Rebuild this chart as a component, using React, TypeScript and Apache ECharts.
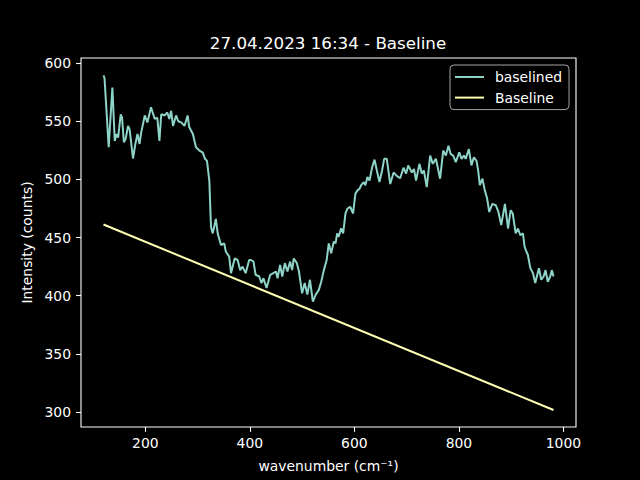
import { useEffect, useRef } from 'react';
import * as echarts from 'echarts';

const chartTitle = '27.04.2023 16:34 - Baseline';

// baselined spectrum
const wavenumbers = [
  120, 122, 130, 137, 141.6, 145, 148, 153, 155.6, 159, 162.5, 167, 170, 176.5, 181, 185, 189, 192, 199, 204,
  211, 218, 223, 227, 230.5, 237, 242, 246, 249.5, 253, 259, 263, 268.6, 275, 281, 284, 291, 297, 303, 310,
  314, 318, 322.5, 325.7, 329, 335, 338.5, 344.8, 351, 354, 360.5, 364, 371, 376.6, 381.5, 386, 392, 398.7,
  402, 407, 411, 418, 422, 426, 432, 439, 445, 450, 453, 458, 462, 467, 472, 477, 481, 484, 490, 494, 500,
  505, 510, 515, 520.6, 526, 532, 536.6, 541.6, 547, 551, 555.6, 560.6, 564, 567, 570, 574.6, 578.5, 583,
  587, 592, 597.5, 602, 606, 610, 613, 618, 621, 625, 629, 634, 638.6, 643, 648, 653, 657, 662, 668.6, 675,
  681, 687.6, 694, 699, 703, 710, 714, 718, 724.4, 729, 733, 738.5, 745, 750, 756, 764, 770, 775, 780, 784,
  789, 794, 800.6, 805, 809.5, 813, 819, 824, 828.6, 833.7, 836.8, 840, 845, 849.5, 854, 858, 864, 870.5,
  875.6, 881, 888, 894, 899, 903, 908.6, 913, 917.5, 922.5, 925.7, 929, 932, 936.6, 941.6, 946, 953, 957.5,
  962, 965.7, 970, 974.7, 977.7, 981,
];
const baselined = [
  589.5, 587, 527.6, 579, 533, 539, 536, 556, 553, 532, 535, 546, 543, 518, 530.5, 539, 530.5, 540, 555, 549,
  562, 552, 553, 533, 556, 555, 557.5, 552, 559, 546, 555, 550, 549, 546, 555, 545, 539, 527.6, 525, 523,
  518, 516, 499, 459, 453.6, 466, 453.6, 443.6, 445, 438, 433.6, 419.4, 432, 430.7, 422, 425, 419.4, 430.7,
  430.7, 429.3, 418, 416.5, 410.9, 415, 406.6, 418, 419.4, 420.8, 415, 426.5, 416.5, 428, 420.8, 429.3, 422,
  432, 428, 420.8, 402, 411, 400.9, 413.7, 395, 400.9, 405, 412, 422, 430.7, 445, 436.5, 446.4, 445, 453.6,
  450.7, 458, 453.6, 470.7, 475, 476.5, 470.7, 487.8, 490.6, 492, 495, 497.7, 495, 502, 499, 510.5, 517,
  507.7, 497.7, 507.7, 517.7, 517.7, 496, 506, 503, 501, 510, 505, 512, 506, 509, 499, 513.4, 505, 507.7,
  493.4, 520.5, 513.4, 517.7, 500.6, 524.8, 520.5, 529, 522, 520.5, 514.8, 523.3, 517.7, 520.5, 517.7, 526,
  512, 519, 516, 507.7, 495, 500.6, 490.6, 483.5, 472, 479, 477.8, 472, 460.7, 479, 457.8, 473.5, 470.7,
  453.6, 457.8, 452, 453.6, 442, 438, 435, 423.7, 419.4, 410.9, 423.7, 413.7, 416.5, 422, 412, 416.5, 422,
  416.5,
];

// fitted straight baseline, end points
const baselineX = [120, 981];
const baselineY = [461.2, 301.7];

const xTicks = [200, 400, 600, 800, 1000];
const yTicks = [300, 350, 400, 450, 500, 550, 600];

const FONT = 'DejaVu Sans';
const LINE_ICON = 'path://M0,0 L29,0 L29,2 L0,2 Z';

export default function App() {
  const chartRef = useRef<HTMLDivElement>(null);

  useEffect(() => {
    if (!chartRef.current) return;
    document.body.style.margin = '0';
    document.body.style.background = '#000';

    const chart = echarts.init(chartRef.current, undefined, { renderer: 'svg' });

    const axisCommon = {
      axisLine: { show: false },
      splitLine: { show: false },
      axisTick: { show: true, inside: false, length: 4.9, lineStyle: { color: '#fff', width: 1.1 } },
      axisLabel: {
        color: '#fff',
        fontSize: 13.9,
        fontFamily: FONT,
        formatter: (v: number) => String(v),
      },
      nameTextStyle: { color: '#fff', fontSize: 13.9, fontFamily: FONT, verticalAlign: 'middle' },
      nameLocation: 'middle' as const,
    };

    chart.setOption({
      animation: false,
      backgroundColor: '#000',
      textStyle: { fontFamily: FONT },
      grid: {
        left: 81,
        right: 64,
        top: 58,
        bottom: 53,
        show: true,
        borderColor: '#fff',
        borderWidth: 1.1,
        backgroundColor: '#000',
      },
      graphic: [
        {
          type: 'text',
          x: 328,
          y: 43,
          style: {
            text: chartTitle,
            fill: '#fff',
            font: `16.7px "${FONT}"`,
            align: 'center',
            verticalAlign: 'middle',
          },
        },
      ],
      legend: {
        orient: 'vertical',
        right: 71,
        top: 65,
        itemWidth: 29,
        itemHeight: 14,
        itemGap: 6.6,
        padding: [5, 7, 5, 5],
        backgroundColor: 'rgba(0,0,0,0.8)',
        borderColor: '#a3a3a3',
        borderWidth: 1,
        borderRadius: 4,
        textStyle: { color: '#fff', fontSize: 13.9, fontFamily: FONT, padding: [0, 0, 0, 6] },
        data: [
          { name: 'baselined', icon: LINE_ICON },
          { name: 'Baseline', icon: LINE_ICON },
        ],
      },
      xAxis: {
        ...axisCommon,
        type: 'value',
        min: 77,
        max: 1024,
        name: 'wavenumber (cm⁻¹)',
        nameGap: 39,
        axisTick: { ...axisCommon.axisTick, customValues: xTicks },
        axisLabel: { ...axisCommon.axisLabel, margin: 9, customValues: xTicks },
      },
      yAxis: {
        ...axisCommon,
        type: 'value',
        min: 287.1,
        max: 604.4,
        name: 'Intensity (counts)',
        nameGap: 48,
        axisTick: { ...axisCommon.axisTick, customValues: yTicks },
        axisLabel: { ...axisCommon.axisLabel, margin: 10, customValues: yTicks },
      },
      series: [
        {
          name: 'baselined',
          type: 'line',
          symbol: 'none',
          smooth: false,
          lineStyle: { color: '#8dd3c7', width: 2 },
          itemStyle: { color: '#8dd3c7' },
          data: wavenumbers.map((x, i) => [x, baselined[i]]),
        },
        {
          name: 'Baseline',
          type: 'line',
          symbol: 'none',
          lineStyle: { color: '#ffffb3', width: 2 },
          itemStyle: { color: '#ffffb3' },
          data: baselineX.map((x, i) => [x, baselineY[i]]),
        },
      ],
    });

    return () => {
      chart.dispose();
    };
  }, []);

  return <div ref={chartRef} style={{ width: 640, height: 480 }} />;
}
